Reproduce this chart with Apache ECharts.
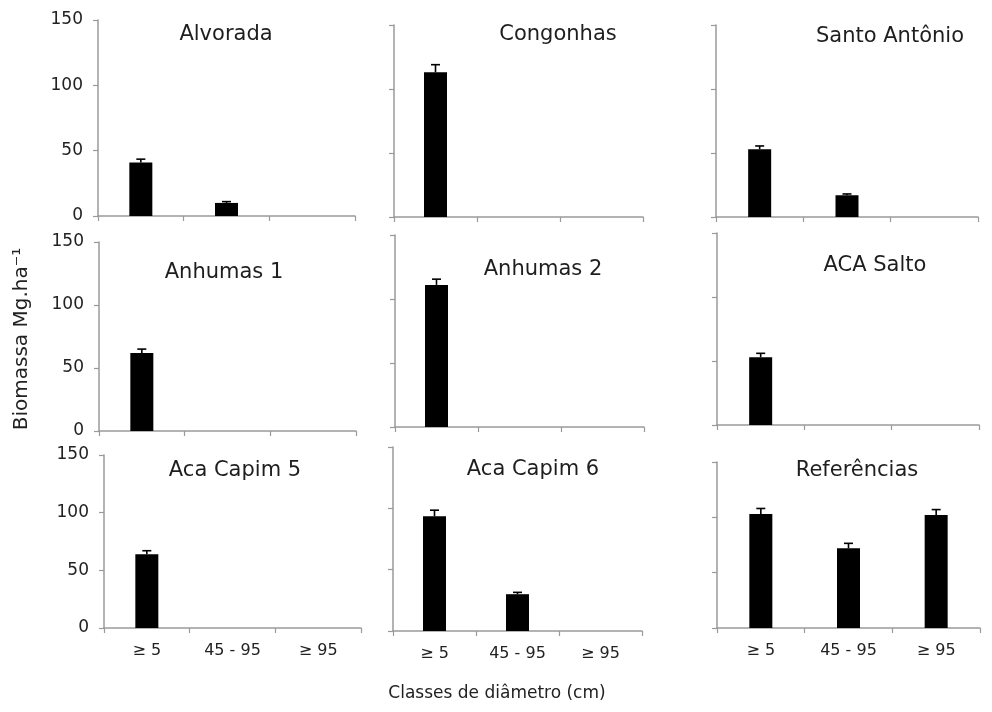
<!DOCTYPE html>
<html>
<head>
<meta charset="utf-8">
<script src="https://cdn.jsdelivr.net/npm/echarts@6/dist/echarts.min.js"></script>
<style>
  html, body { margin: 0; padding: 0; background: #fff; }
  #chart { width: 992px; height: 712px; }
</style>
</head>
<body>
<div id="chart"></div>
<script>
// Diameter classes (x categories) and biomass ticks (Mg/ha)
const classes = ['≥ 5', '45 - 95', '≥ 95'];
const yTicks = [0, 50, 100, 150];

// Site names, one panel each
const sites = ['Alvorada', 'Congonhas', 'Santo Antônio',
               'Anhumas 1', 'Anhumas 2', 'ACA Salto',
               'Aca Capim 5', 'Aca Capim 6', 'Referências'];

// Mean biomass per diameter class and its standard error
const alvorada      = [41, 10, null];   const alvoradaErr     = [2.5, 1, null];
const congonhas     = [113, null, null]; const congonhasErr    = [6, null, null];
const santoAntonio  = [53, 17, null];   const santoAntonioErr = [2.5, 1, null];
const anhumas1      = [62, null, null]; const anhumas1Err     = [3, null, null];
const anhumas2      = [111, null, null]; const anhumas2Err    = [4.5, null, null];
const acaSalto      = [53, null, null]; const acaSaltoErr     = [3, null, null];
const acaCapim5     = [64, null, null]; const acaCapim5Err    = [3, null, null];
const acaCapim6     = [93.5, 30, null]; const acaCapim6Err    = [5, 1.5, null];
const referencias   = [103, 72, 102];   const referenciasErr  = [5, 4.5, 5];

const means  = [alvorada, congonhas, santoAntonio, anhumas1, anhumas2, acaSalto, acaCapim5, acaCapim6, referencias];
const errors = [alvoradaErr, congonhasErr, santoAntonioErr, anhumas1Err, anhumas2Err, acaSaltoErr, acaCapim5Err, acaCapim6Err, referenciasErr];

// Panel plot boxes [left, top, right, bottom] in px, and title anchors [x, y]
const boxes = [
  [98, 20, 355, 216], [394, 25, 643, 217], [716, 25, 978, 217],
  [99, 242, 356, 431], [395, 235, 644, 427], [717, 233, 979, 425],
  [104, 455, 361, 628], [393, 447, 642, 631], [717, 462, 980, 628]
];
const titleAt = [
  [226, 35], [558, 35], [890, 37],
  [224, 273], [543, 270], [875, 266],
  [235, 471], [533, 470], [857, 471]
];

const FONT = 'DejaVu Sans';
const AXIS_COLOR = '#9a9a9a';
const TEXT_COLOR = '#222';

const grids = [], xAxes = [], yAxes = [], series = [], graphics = [];

boxes.forEach((b, i) => {
  const col = i % 3, row = Math.floor(i / 3);
  grids.push({ left: b[0], top: b[1], width: b[2] - b[0], height: b[3] - b[1],
               containLabel: false, outerBoundsMode: 'none' });
  xAxes.push({
    type: 'category', gridIndex: i, data: classes, boundaryGap: true,
    axisLine: { show: true, lineStyle: { color: AXIS_COLOR, width: 1.5 } },
    axisTick: { show: true, length: 5, lineStyle: { color: AXIS_COLOR, width: 1.2 } },
    axisLabel: { show: row === 2, interval: 0, margin: 15, fontSize: 16,
                 fontFamily: FONT, color: TEXT_COLOR },
    splitLine: { show: false }
  });
  yAxes.push({
    type: 'value', gridIndex: i,
    min: yTicks[0], max: yTicks[yTicks.length - 1], interval: yTicks[1] - yTicks[0],
    axisLine: { show: true, lineStyle: { color: AXIS_COLOR, width: 1.5 } },
    axisTick: { show: true, length: 5, lineStyle: { color: AXIS_COLOR, width: 1.2 } },
    axisLabel: { show: col === 0, margin: 15, fontSize: 17,
                 fontFamily: FONT, color: TEXT_COLOR },
    splitLine: { show: false }
  });
  series.push({
    type: 'bar', xAxisIndex: i, yAxisIndex: i, data: means[i],
    barWidth: 23, itemStyle: { color: '#000' }, silent: true
  });
  const errData = [];
  means[i].forEach((v, k) => { if (v != null) errData.push([k, v, errors[i][k]]); });
  series.push({
    type: 'custom', xAxisIndex: i, yAxisIndex: i, data: errData, z: 3, silent: true,
    encode: { x: 0, y: 1 },
    renderItem: (params, api) => {
      const base = api.coord([api.value(0), api.value(1)]);
      const top = api.coord([api.value(0), api.value(1) + api.value(2)]);
      const st = { stroke: '#000', lineWidth: 1.6 };
      return {
        type: 'group',
        children: [
          { type: 'line', shape: { x1: base[0], y1: base[1], x2: top[0], y2: top[1] }, style: st },
          { type: 'line', shape: { x1: top[0] - 4.5, y1: top[1], x2: top[0] + 4.5, y2: top[1] }, style: st }
        ]
      };
    }
  });
  graphics.push({
    type: 'text', x: titleAt[i][0], y: titleAt[i][1],
    style: { text: sites[i], fill: '#1e1e1e', font: '21px "' + FONT + '"',
             textAlign: 'center', textVerticalAlign: 'middle' }
  });
});

// Shared axis titles
graphics.push({
  type: 'text', x: 22, y: 339, rotation: Math.PI / 2,
  style: { text: 'Biomassa Mg.ha⁻¹', fill: TEXT_COLOR, font: '20px "' + FONT + '"',
           textAlign: 'center', textVerticalAlign: 'middle' }
});
graphics.push({
  type: 'text', x: 497, y: 694,
  style: { text: 'Classes de diâmetro (cm)', fill: TEXT_COLOR, font: '17px "' + FONT + '"',
           textAlign: 'center', textVerticalAlign: 'middle' }
});

const chart = echarts.init(document.getElementById('chart'), null, { renderer: 'canvas' });
chart.setOption({
  animation: false,
  backgroundColor: '#fff',
  grid: grids, xAxis: xAxes, yAxis: yAxes, series: series,
  graphic: { elements: graphics }
});
</script>
</body>
</html>
